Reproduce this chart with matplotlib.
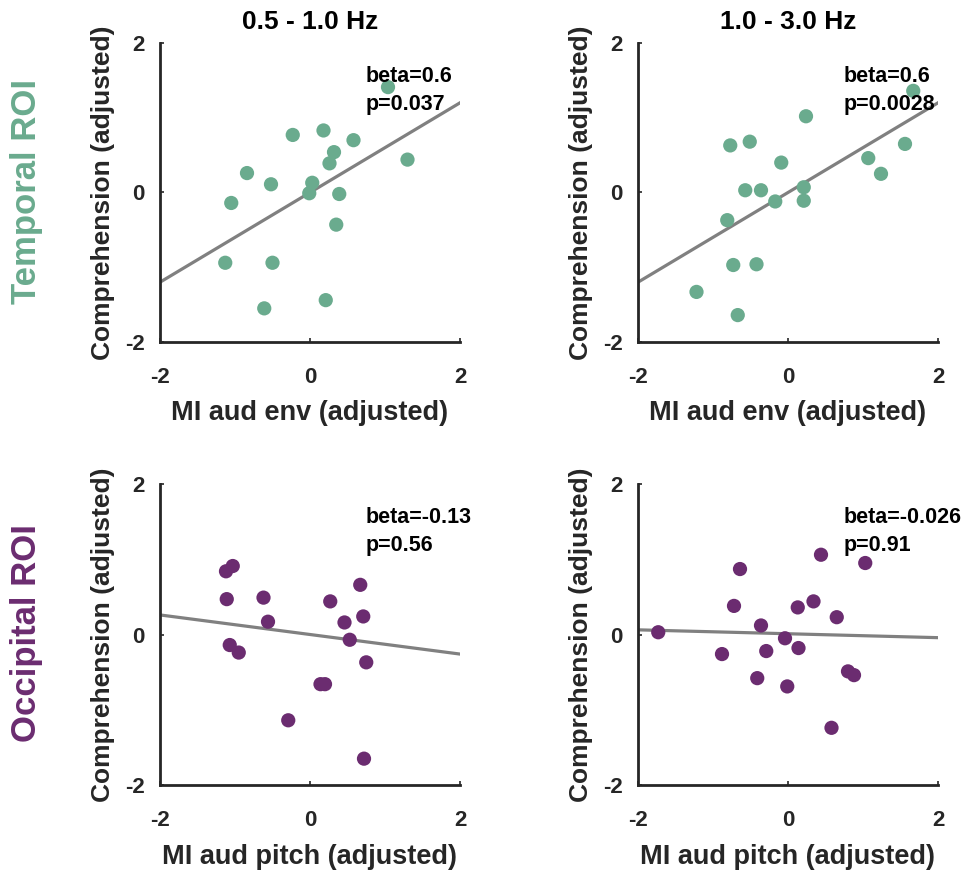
import numpy as np
import matplotlib
matplotlib.use('Agg')
import matplotlib.pyplot as plt

plt.rcParams['font.family'] = ['Liberation Sans', 'DejaVu Sans']
plt.rcParams['font.weight'] = 'bold'
plt.rcParams['axes.unicode_minus'] = False

green = '#6aab8e'
purple = '#6b2c70'
dark = '#262626'

# data
env_lo_x = [1.04, -0.23, 0.18, 0.58, 0.32, 0.26, 1.30, -0.84, -0.52, 0.03, -0.01, 0.39, -1.05, 0.35, -1.13, -0.50, -0.61, 0.21]
env_lo_y = [1.41, 0.77, 0.83, 0.70, 0.54, 0.39, 0.44, 0.26, 0.11, 0.13, -0.01, -0.02, -0.14, -0.43, -0.94, -0.94, -1.55, -1.44]
env_hi_x = [1.67, 0.24, -0.77, -0.51, -0.09, 1.07, 1.56, 1.24, -0.57, -0.36, 0.21, -0.17, 0.21, -0.81, -0.73, -0.42, -1.22, -0.67]
env_hi_y = [1.36, 1.02, 0.63, 0.68, 0.40, 0.46, 0.65, 0.25, 0.03, 0.03, 0.07, -0.12, -0.11, -0.37, -0.97, -0.96, -1.33, -1.64]
pit_lo_x = [-1.03, -1.12, -1.11, -0.62, -0.56, 0.67, 0.27, 0.71, 0.46, 0.53, -1.07, -0.95, 0.75, 0.14, 0.20, -0.29, 0.72]
pit_lo_y = [0.91, 0.84, 0.47, 0.49, 0.17, 0.66, 0.44, 0.24, 0.16, -0.07, -0.14, -0.24, -0.37, -0.66, -0.66, -1.14, -1.65]
pit_hi_x = [-1.73, -0.64, -0.72, -0.36, -0.04, -0.88, -0.29, -0.41, -0.01, 0.13, 0.34, 0.44, 0.14, 0.65, 1.03, 0.80, 0.88, 0.58]
pit_hi_y = [0.03, 0.87, 0.38, 0.12, -0.05, -0.26, -0.22, -0.58, -0.69, 0.36, 0.44, 1.06, -0.18, 0.23, 0.95, -0.49, -0.54, -1.24]

betas = [0.6, 0.6, -0.13, -0.026]
intercepts = [0.0, 0.0, 0.0, 0.01]
beta_labels = ['beta=0.6', 'beta=0.6', 'beta=-0.13', 'beta=-0.026']
p_labels = ['p=0.037', 'p=0.0028', 'p=0.56', 'p=0.91']
titles = ['0.5 - 1.0 Hz', '1.0 - 3.0 Hz']
xlabels = ['MI aud env (adjusted)', 'MI aud pitch (adjusted)']
rows = ['Temporal ROI', 'Occipital ROI']
row_colors = [green, purple]

panels = [(env_lo_x, env_lo_y), (env_hi_x, env_hi_y), (pit_lo_x, pit_lo_y), (pit_hi_x, pit_hi_y)]

fig = plt.figure(figsize=(9.64, 8.72), dpi=100)
W, H = 964, 872
boxes = [(160, 43, 300, 299), (638, 43, 300, 299), (160, 484, 300, 301), (638, 484, 300, 301)]

for i, ((xs, ys), (l, t, w, h)) in enumerate(zip(panels, boxes)):
    ax = fig.add_axes([l / W, 1 - (t + h) / H, w / W, h / H])
    r = i // 2
    xx = np.array([-2, 2])
    ax.plot(xx, betas[i] * xx + intercepts[i], color='#808080', lw=2.3, zorder=2)
    ax.scatter(xs, ys, s=105, color=row_colors[r], edgecolors='none', zorder=3)
    ax.set_xlim(-2, 2)
    ax.set_ylim(-2, 2)
    ax.set_xticks([-2, 0, 2])
    ax.set_yticks([-2, 0, 2])
    for s in ['top', 'right']:
        ax.spines[s].set_visible(False)
    for s in ['left', 'bottom']:
        ax.spines[s].set_linewidth(2.0)
        ax.spines[s].set_color(dark)
    ax.tick_params(direction='in', length=3, width=1.2, colors=dark, labelsize=16)
    ax.tick_params(axis='x', pad=18)
    ax.tick_params(axis='y', pad=11)
    for lab in ax.get_xticklabels() + ax.get_yticklabels():
        lab.set_fontweight('bold')
    ax.set_ylabel('Comprehension (adjusted)', fontsize=19, fontweight='bold', color=dark, labelpad=7)
    ax.set_xlabel(xlabels[r], fontsize=19.5, fontweight='bold', color=dark, labelpad=9)
    ax.text(0.74, 1.48, beta_labels[i], fontsize=15.5, fontweight='bold', color='black', va='baseline', ha='left')
    ax.text(0.74, 1.11, p_labels[i], fontsize=15.5, fontweight='bold', color='black', va='baseline', ha='left')
    if r == 0:
        ax.set_title(titles[i], fontsize=19, fontweight='bold', color='black', pad=10)

fig.text(27 / W, 1 - 191 / H, rows[0], rotation=90, fontsize=25, fontweight='bold',
         color=green, ha='center', va='center')
fig.text(27 / W, 1 - 633 / H, rows[1], rotation=90, fontsize=25, fontweight='bold',
         color=purple, ha='center', va='center')

fig.savefig('out.png', dpi=100, facecolor='white')
